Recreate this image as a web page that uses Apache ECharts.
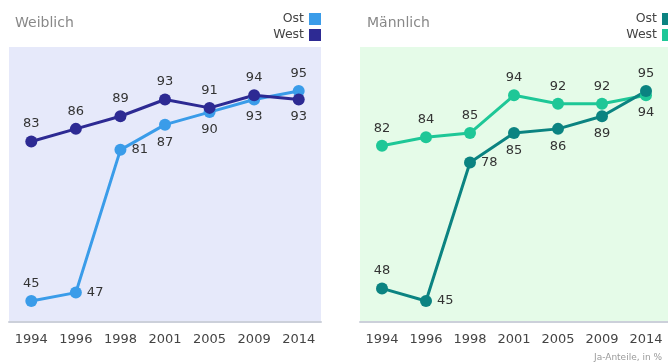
<!DOCTYPE html>
<html>
<head>
<meta charset="utf-8">
<script src="https://cdn.jsdelivr.net/npm/echarts@6/dist/echarts.min.js"></script>
<style>
  html, body { margin: 0; padding: 0; background: #fff; }
  #chart { width: 668px; height: 363px; }
</style>
</head>
<body>
<div id="chart"></div>
<script>
// Survey years shared by both panels
const years = ['1994', '1996', '1998', '2001', '2005', '2009', '2014'];

// Share of "yes" answers, in percent
const femaleEast = [45, 47, 81, 87, 90, 93, 95];
const femaleWest = [83, 86, 89, 93, 91, 94, 93];
const maleEast = [48, 45, 78, 85, 86, 89, 95];
const maleWest = [82, 84, 85, 94, 92, 92, 94];

// Where each value label sits relative to its point
const labelPos = {
  femaleEast: ['top', 'right', 'right', 'bottom', 'bottom', 'bottom', 'top'],
  femaleWest: ['top', 'top', 'top', 'top', 'top', 'top', 'bottom'],
  maleEast: ['top', 'right', 'right', 'bottom', 'bottom', 'bottom', 'top'],
  maleWest: ['top', 'top', 'top', 'top', 'top', 'top', 'bottom']
};

const FONT = 'DejaVu Sans';
const colors = {
  femaleEast: '#3a9ce9',
  femaleWest: '#2d2a93',
  maleEast: '#0b8381',
  maleWest: '#1ec797'
};

function lineSeries(name, values, key, axisIndex) {
  return {
    name: name,
    type: 'line',
    xAxisIndex: axisIndex,
    yAxisIndex: axisIndex,
    data: values.map((v, i) => ({
      value: v,
      label: { position: labelPos[key][i] }
    })),
    symbol: 'circle',
    symbolSize: 12,
    lineStyle: { width: 3, color: colors[key] },
    itemStyle: { color: colors[key] },
    label: {
      show: true,
      distance: 5,
      fontFamily: FONT,
      fontSize: 13,
      color: '#333'
    },
    emphasis: { disabled: true },
    animation: false
  };
}

function axisX(gridIndex) {
  return {
    type: 'category',
    gridIndex: gridIndex,
    data: years,
    boundaryGap: true,
    axisLine: { lineStyle: { color: '#ccd0da', width: 2 } },
    axisTick: { show: false },
    axisLabel: { fontFamily: FONT, fontSize: 13, color: '#444', margin: 11 }
  };
}

function axisY(gridIndex) {
  return {
    type: 'value',
    gridIndex: gridIndex,
    min: 40,
    max: 105.5,
    show: false,
    splitLine: { show: false }
  };
}

// Legend row: right-aligned label followed by a colour square
function legendEntry(rightEdge, y, text, color) {
  return [
    {
      type: 'text',
      x: rightEdge - 18,
      y: y,
      style: {
        text: text,
        align: 'right',
        verticalAlign: 'top',
        font: '12.5px "' + FONT + '"',
        fill: '#444'
      }
    },
    {
      type: 'rect',
      x: rightEdge - 13,
      y: y + 1,
      shape: { width: 12, height: 12 },
      style: { fill: color }
    }
  ];
}

const chart = echarts.init(document.getElementById('chart'), null, { renderer: 'canvas' });

chart.setOption({
  backgroundColor: '#fff',
  title: [
    {
      text: 'Weiblich', left: 10, top: 11,
      textStyle: { fontFamily: FONT, fontSize: 14, fontWeight: 'normal', color: '#888' }
    },
    {
      text: 'Männlich', left: 362, top: 11,
      textStyle: { fontFamily: FONT, fontSize: 14, fontWeight: 'normal', color: '#888' }
    }
  ],
  grid: [
    { left: 9, top: 47, width: 312, height: 275, show: true, backgroundColor: '#e6e9fa', borderWidth: 0 },
    { left: 360, top: 47, width: 316, height: 275, show: true, backgroundColor: '#e5fbe8', borderWidth: 0 }
  ],
  xAxis: [axisX(0), axisX(1)],
  yAxis: [axisY(0), axisY(1)],
  series: [
    lineSeries('Ost', femaleEast, 'femaleEast', 0),
    lineSeries('West', femaleWest, 'femaleWest', 0),
    lineSeries('West', maleWest, 'maleWest', 1),
    lineSeries('Ost', maleEast, 'maleEast', 1)
  ],
  graphic: [
    ...legendEntry(322, 12, 'Ost', colors.femaleEast),
    ...legendEntry(322, 28, 'West', colors.femaleWest),
    ...legendEntry(675, 12, 'Ost', colors.maleEast),
    ...legendEntry(675, 28, 'West', colors.maleWest),
    {
      type: 'text',
      x: 594,
      y: 353,
      style: { text: 'Ja-Anteile, in %', font: '9px "' + FONT + '"', fill: '#9a9a9a' }
    }
  ],
  animation: false
});
</script>
</body>
</html>
